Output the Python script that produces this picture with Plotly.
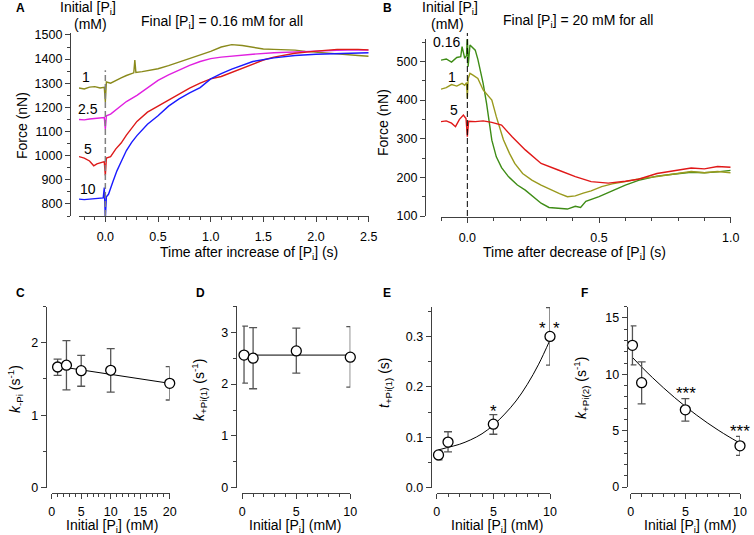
import plotly.graph_objects as go

W, H = 754, 535
FONT = "Liberation Sans, Arial, sans-serif"

# ---------------- Panel A data (Force vs time after increase of [Pi]) -------------
tA1 = [-0.25,-0.2,-0.15,-0.1,-0.05,-0.01,0.0,0.01,0.05,0.1,0.15,0.2,0.27,0.28,0.29,0.35,0.4,0.5,0.6,0.7,0.8,0.9,1.0,1.1,1.2,1.3,1.4,1.5,1.6,1.7,1.8,1.9,2.0,2.1,2.2,2.3,2.4,2.5]
FA1 = [1280,1276,1284,1286,1280,1283,1222,1305,1300,1312,1322,1332,1343,1396,1345,1348,1351,1360,1373,1388,1400,1415,1432,1450,1460,1456,1448,1442,1440,1440,1437,1432,1428,1425,1420,1418,1415,1412]
tA2 = [-0.25,-0.2,-0.15,-0.1,-0.05,-0.01,0.0,0.01,0.05,0.1,0.15,0.2,0.3,0.4,0.5,0.6,0.7,0.8,0.9,1.0,1.1,1.2,1.4,1.6,1.8,2.0,2.2,2.4,2.5]
FA2 = [1150,1148,1152,1155,1156,1158,1110,1165,1172,1190,1208,1224,1250,1282,1312,1335,1356,1374,1390,1402,1408,1413,1420,1426,1430,1434,1436,1438,1437]
tA3 = [-0.25,-0.2,-0.15,-0.11,-0.08,-0.04,-0.01,0.0,0.01,0.05,0.1,0.15,0.2,0.3,0.4,0.5,0.6,0.7,0.8,0.9,1.0,1.1,1.2,1.3,1.4,1.5,1.6,1.8,2.0,2.2,2.4,2.5]
FA3 = [996,990,978,958,966,972,975,918,990,996,1028,1052,1085,1142,1180,1205,1230,1258,1280,1300,1318,1328,1345,1362,1380,1396,1408,1424,1433,1440,1440,1438]
tA4 = [-0.25,-0.2,-0.15,-0.1,-0.05,-0.02,-0.01,0.0,0.01,0.03,0.07,0.11,0.15,0.2,0.25,0.3,0.4,0.5,0.6,0.7,0.8,0.9,1.0,1.1,1.2,1.3,1.4,1.6,1.8,2.0,2.2,2.4,2.5]
FA4 = [820,818,820,822,821,825,868,740,830,840,890,937,975,1021,1055,1083,1130,1165,1205,1235,1260,1282,1318,1340,1358,1375,1390,1405,1415,1420,1423,1425,1426]
labelsA = ["1", "2.5", "5", "10"]

# ---------------- Panel B data (Force vs time after decrease of [Pi]) -------------
tB1 = [-0.1,-0.08,-0.06,-0.04,-0.025,-0.02,-0.01,-0.003,0.0,0.003,0.01,0.02,0.03,0.04,0.05,0.06,0.073,0.083,0.093,0.11,0.13,0.156,0.19,0.22,0.25,0.28,0.31,0.345,0.38,0.41,0.43,0.45,0.5,0.55,0.6,0.65,0.72,0.78,0.85,0.9,0.95,1.0]
FB1 = [503,506,498,510,512,538,508,515,572,486,542,535,529,505,475,443,391,340,296,253,225,202,180,167,150,133,122,120,118,125,122,138,150,165,180,192,203,208,213,212,214,218]
tB2 = [-0.1,-0.08,-0.06,-0.04,-0.02,-0.01,-0.003,0.0,0.003,0.01,0.02,0.04,0.06,0.08,0.093,0.11,0.137,0.16,0.18,0.21,0.245,0.28,0.32,0.35,0.38,0.41,0.44,0.47,0.51,0.55,0.6,0.65,0.72,0.78,0.85,0.9,0.95,1.0]
FB2 = [428,432,440,436,443,438,445,404,455,469,465,456,426,410,400,357,297,262,236,210,193,180,167,158,150,152,159,165,176,183,189,196,202,208,215,212,215,212]
tB3 = [-0.1,-0.08,-0.06,-0.045,-0.03,-0.015,-0.005,0.0,0.005,0.03,0.06,0.093,0.13,0.17,0.22,0.28,0.345,0.41,0.47,0.535,0.6,0.65,0.72,0.78,0.85,0.9,0.95,1.0]
FB3 = [344,346,340,331,350,361,352,305,345,344,346,342,335,305,271,236,219,202,189,185,190,195,210,216,224,222,228,226]
labelsB = ["0.16", "1", "5"]

# ---------------- Panels C-F data ----------------
xC = [1, 2.5, 5, 10, 20]
yC = [1.665, 1.69, 1.615, 1.62, 1.44]
hiC = [1.775, 2.03, 1.826, 1.92, 1.67]
loC = [1.55, 1.35, 1.40, 1.32, 1.21]
fitC_x = [1, 20]
fitC_y = [1.675, 1.44]

xD = [0.16, 1, 5, 10]
yD = [2.56, 2.50, 2.64, 2.52]
hiD = [3.12, 3.09, 3.08, 3.11]
loD = [2.02, 1.91, 2.21, 1.94]
fitD_x = [0.16, 10]
fitD_y = [2.56, 2.56]

xE = [0.16, 1, 5, 10]
yE = [0.065, 0.0905, 0.126, 0.300]
hiE = [0.073, 0.111, 0.145, 0.357]
loE = [0.055, 0.071, 0.106, 0.243]
fitE_x = [0.16, 1, 2, 3, 4, 5, 6, 7, 8, 9, 10]
fitE_y = [0.075, 0.080, 0.086, 0.095, 0.107, 0.124, 0.146, 0.172, 0.205, 0.245, 0.293]

xF = [0.16, 1, 5, 10]
yF = [12.57, 9.26, 6.85, 3.65]
hiF = [14.29, 11.1, 7.85, 4.5]
loF = [10.83, 7.37, 5.85, 2.8]
fitF_x = [0.16, 1, 2, 3, 4, 5, 6, 7, 8, 9, 9.8]
fitF_y = [11.5, 10.65, 9.7, 8.8, 7.95, 7.15, 6.4, 5.7, 5.05, 4.45, 4.0]

# ---------------- helpers ----------------
def px(x):
    return x / W

def py(y):
    return 1 - y / H

AXC = "#404040"

def xaxis(rng, x0, x1, ypos, dtick, mdtick, fmt=None, standoff=3):
    d = dict(range=rng, domain=[px(x0), px(x1)], anchor="free", position=py(ypos),
             showgrid=False, zeroline=False, showline=True, linecolor=AXC, linewidth=1.2,
             ticks="outside", ticklen=5, tickwidth=1.2, tickcolor=AXC,
             tickmode="linear", tick0=0, dtick=dtick, automargin=False,
             ticklabelstandoff=standoff,
             tickfont=dict(family=FONT, size=12.5, color="black"),
             minor=dict(ticks="outside", ticklen=3, tickwidth=1, tickcolor=AXC, dtick=mdtick, tick0=0, showgrid=False))
    if fmt:
        d["tickformat"] = fmt
    return d

def yaxis(rng, y_top, y_bot, xpos, dtick, mdtick, tick0=0, fmt=None):
    d = dict(range=rng, domain=[py(y_bot), py(y_top)], anchor="free", position=px(xpos),
             showgrid=False, zeroline=False, showline=True, linecolor=AXC, linewidth=1.2,
             ticks="outside", ticklen=5, tickwidth=1.2, tickcolor=AXC,
             tickmode="linear", tick0=tick0, dtick=dtick, automargin=False,
             tickfont=dict(family=FONT, size=12.5, color="black"),
             minor=dict(ticks="outside", ticklen=3, tickwidth=1, tickcolor=AXC, dtick=mdtick, tick0=tick0, showgrid=False))
    if fmt:
        d["tickformat"] = fmt
    return d

fig = go.Figure()

# Panel A traces
colA = ["#8a8a1c", "#e020e0", "#dd1a1a", "#1a1aff"]
for t, f, c in zip([tA1, tA2, tA3, tA4], [FA1, FA2, FA3, FA4], colA):
    fig.add_trace(go.Scatter(x=t, y=f, mode="lines", line=dict(color=c, width=1.4),
                             xaxis="x", yaxis="y", showlegend=False))
# Panel B traces
colB = ["#3e8c16", "#9a9a1e", "#e01818"]
for t, f, c in zip([tB1, tB2, tB3], [FB1, FB2, FB3], colB):
    fig.add_trace(go.Scatter(x=t, y=f, mode="lines", line=dict(color=c, width=1.4),
                             xaxis="x2", yaxis="y2", showlegend=False))

def add_points(xs, ys, hi, lo, fx, fy, ax, spline=False):
    fig.add_trace(go.Scatter(x=fx, y=fy, mode="lines",
                             line=dict(color="black", width=1, shape="spline" if spline else "linear"),
                             xaxis="x" + ax, yaxis="y" + ax, showlegend=False))
    fig.add_trace(go.Scatter(x=xs, y=ys, mode="markers",
                             marker=dict(symbol="circle", size=10, color="white",
                                         line=dict(color="black", width=1.3)),
                             error_y=dict(type="data", symmetric=False,
                                          array=[h - v for h, v in zip(hi, ys)],
                                          arrayminus=[v - l for l, v in zip(lo, ys)],
                                          color="#555555", thickness=1.3, width=4),
                             xaxis="x" + ax, yaxis="y" + ax, showlegend=False,
                             cliponaxis=False))

add_points(xC, yC, hiC, loC, fitC_x, fitC_y, "3")
add_points(xD, yD, hiD, loD, fitD_x, fitD_y, "4")
add_points(xE, yE, hiE, loE, fitE_x, fitE_y, "5", spline=True)
add_points(xF, yF, hiF, loF, fitF_x, fitF_y, "6", spline=True)

layout = dict(
    width=W, height=H, margin=dict(l=0, r=0, t=0, b=0, autoexpand=False),
    paper_bgcolor="white", plot_bgcolor="white",
    font=dict(family=FONT, size=12.5, color="black"),
    xaxis=xaxis([-0.25, 2.5], 79, 368.7, 216, 0.5, 0.1, ".1f", standoff=4),
    yaxis=yaxis([750, 1508], 33, 216, 70, 100, 50, tick0=0),
    xaxis2=xaxis([-0.1, 1.0], 441, 730.7, 216.5, 0.5, 0.1, ".1f", standoff=4),
    yaxis2=yaxis([100, 557], 39.3, 216, 425, 100, 50, tick0=0),
    xaxis3=xaxis([0, 20], 51.7, 169.7, 492.7, 5, 1, standoff=2),
    yaxis3=yaxis([0, 2.5], 306.5, 487.7, 45.7, 1, 0.5),
    xaxis4=xaxis([0, 10], 242.3, 350.3, 492.7, 5, 1, standoff=2),
    yaxis4=yaxis([0, 3.5], 306.4, 487.7, 235.7, 1, 0.5),
    xaxis5=xaxis([0, 10], 436.7, 550, 492.7, 5, 1, standoff=2),
    yaxis5=yaxis([0, 0.359], 306.7, 487.7, 430.7, 0.1, 0.05, fmt=".1f"),
    xaxis6=xaxis([0, 10], 630.7, 740, 492.7, 5, 1, standoff=2),
    yaxis6=yaxis([0, 16], 306.7, 487, 626.7, 5, 1),
)
fig.update_layout(**layout)

# dashed lines at t = 0
fig.add_shape(type="line", xref="x", yref="y", x0=0, x1=0, y0=750, y1=1354,
              line=dict(color="#808080", width=1.5, dash="6px,3px"))
fig.add_shape(type="line", xref="x2", yref="paper", x0=0, x1=0, y0=py(216), y1=py(33),
              line=dict(color="black", width=1, dash="6px,3px"))

ann = []
def T(x, y, text, size=14, bold=False, angle=0, xanchor="center"):
    ann.append(dict(x=px(x), y=py(y), xref="paper", yref="paper", text=("<b>%s</b>" % text) if bold else text,
                    showarrow=False, font=dict(family=FONT, size=size, color="black"),
                    textangle=angle, xanchor=xanchor, yanchor="middle"))

# panel letters
for lab, x, y in [("A", 20, 8), ("B", 387, 8), ("C", 20, 293), ("D", 200, 293), ("E", 387, 293), ("F", 584, 293)]:
    T(x, y, lab, size=12, bold=True)

# Panel A texts
T(88, 8, "Initial [P<sub>i</sub>]")
T(90.7, 24, "(mM)")
T(221.7, 21.5, "Final [P<sub>i</sub>] = 0.16 mM for all")
for lab, (x, y) in zip(labelsA, [(86, 77), (88, 109), (88, 149), (88, 189)]):
    T(x, y, lab)
T(22, 126, "Force (nN)", angle=-90)
T(249, 253, "Time after increase of [P<sub>i</sub>] (s)")

# Panel B texts
T(450, 8, "Initial [P<sub>i</sub>]")
T(447.5, 24, "(mM)")
T(578, 21, "Final [P<sub>i</sub>] = 20 mM for all")
for lab, (x, y) in zip(labelsB, [(446.7, 42.5), (451.7, 77), (453.5, 110)]):
    T(x, y, lab)
T(383, 123, "Force (nN)", angle=-90)
T(574, 253, "Time after decrease of [P<sub>i</sub>] (s)")

# Bottom panels titles
for x in [111.7, 295, 496.7, 690]:
    T(x, 525.5, "Initial [P<sub>i</sub>] (mM)")
T(15, 389, "<i>k</i><sub>-Pi</sub> (s<sup>-1</sup>)", angle=-90)
T(199, 390, "<i>k</i><sub>+Pi(1)</sub> (s<sup>-1</sup>)", angle=-90)
T(385, 383, "<i>t</i><sub>+Pi(1)</sub> (s)", angle=-90)
T(581, 388, "<i>k</i><sub>+Pi(2)</sub> (s<sup>-1</sup>)", angle=-90)

# significance stars (data coordinates)
def S(x, y, text, ax, xshift=0):
    ann.append(dict(x=x, y=y, xref="x" + ax, yref="y" + ax, text=text, showarrow=False,
                    xshift=xshift, font=dict(family=FONT, size=17, color="black"), yanchor="middle"))
S(5, 0.152, "*", "5")
S(10, 0.316, "*", "5", xshift=-8)
S(10, 0.316, "*", "5", xshift=6)
S(5, 8.3, "***", "6", xshift=1)
S(10, 4.9, "***", "6")

fig.update_layout(annotations=ann)
fig.write_html("out.html", config={"displayModeBar": False},
               post_script="document.body.style.margin='0px';")
